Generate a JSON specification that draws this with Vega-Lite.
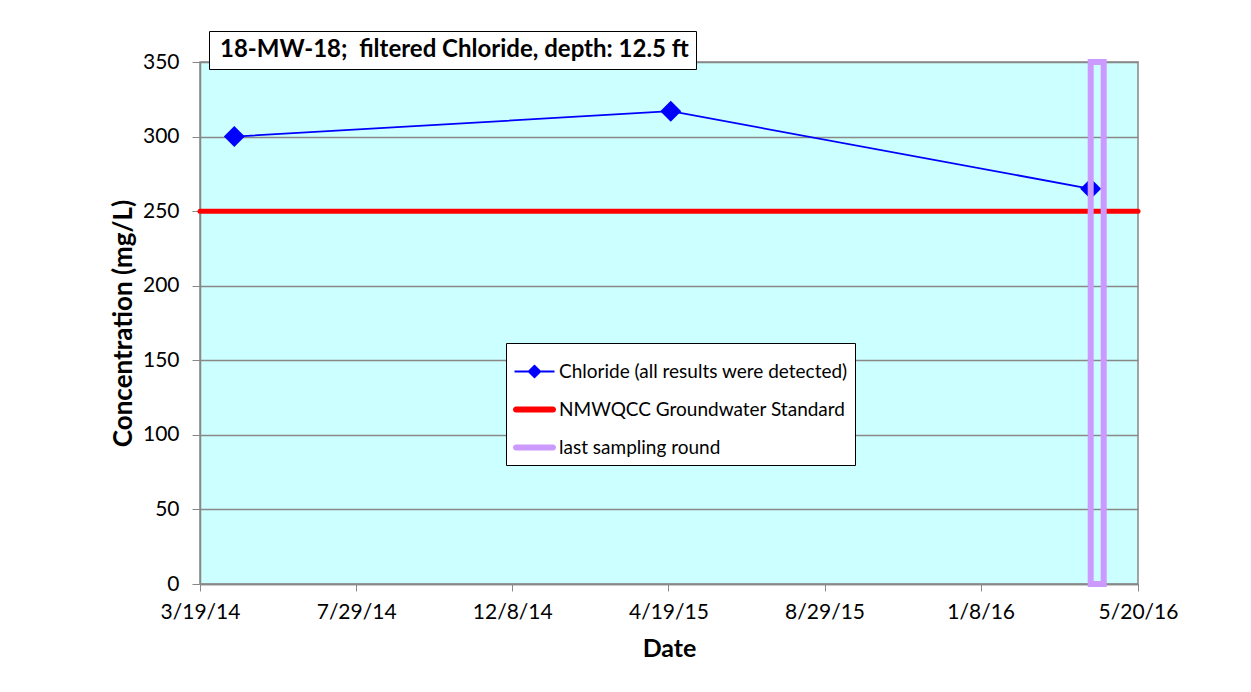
{
  "$schema": "https://vega.github.io/schema/vega-lite/v6.json",
  "width": 938,
  "height": 522,
  "autosize": {"type": "none"},
  "padding": {"left": 200, "top": 62, "right": 113, "bottom": 108},
  "background": "white",
  "config": {
    "view": {"fill": "#CCFFFF", "stroke": "#888888", "strokeWidth": 1.5},
    "font": "Lato"
  },
  "data": {
    "values": [
      {"series": "Chloride (all results were detected)", "date": "2014-04-17T00:00", "value": 300},
      {"series": "Chloride (all results were detected)", "date": "2015-04-21T00:00", "value": 317},
      {"series": "Chloride (all results were detected)", "date": "2016-04-10T00:00", "value": 265},
      {"series": "NMWQCC Groundwater Standard", "value": 250},
      {"series": "last sampling round", "start": "2016-04-10T00:00", "end": "2016-04-21T00:00"}
    ]
  },
  "encoding": {
    "x": {
      "field": "date",
      "type": "temporal",
      "scale": {
        "domain": [{"year": 2014, "month": 3, "date": 19}, {"year": 2016, "month": 5, "date": 20}],
        "nice": false
      },
      "axis": {
        "title": "Date",
        "values": [
          {"year": 2014, "month": 3, "date": 19},
          {"year": 2014, "month": 7, "date": 29},
          {"year": 2014, "month": 12, "date": 8},
          {"year": 2015, "month": 4, "date": 19},
          {"year": 2015, "month": 8, "date": 29},
          {"year": 2016, "month": 1, "date": 8},
          {"year": 2016, "month": 5, "date": 20}
        ],
        "format": "%-m/%-d/%y",
        "grid": false,
        "domainColor": "#888888",
        "domainWidth": 1.5,
        "tickColor": "#888888",
        "tickSize": 7,
        "labelFont": "Lato",
        "labelFontSize": 21,
        "labelColor": "black",
        "labelPadding": 10,
        "labelFlush": false,
        "titleFont": "Lato",
        "titleFontSize": 25,
        "titleFontWeight": "bold",
        "titleColor": "black",
        "titlePadding": 14
      }
    },
    "color": {
      "field": "series",
      "type": "nominal",
      "scale": {
        "domain": ["Chloride (all results were detected)", "NMWQCC Groundwater Standard", "last sampling round"],
        "range": ["#0000FF", "#FF0000", "#CC99FF"]
      },
      "legend": {
        "title": null,
        "orient": "none",
        "legendX": 306,
        "legendY": 281,
        "direction": "vertical",
        "padding": 7,
        "titlePadding": 0,
        "strokeColor": "black",
        "fillColor": "white",
        "labelFont": "Lato",
        "labelFontSize": 19,
        "labelColor": "black",
        "labelLimit": 400,
        "labelOffset": 3,
        "symbolSize": 400,
        "rowPadding": 6,
        "encode": {
          "symbols": {
            "update": {
              "shape": {"signal": "datum.value === 'Chloride (all results were detected)' ? 'M-0.93,-0.05L0.93,-0.05L0.93,0.05L-0.93,0.05Z M0,-0.33L0.33,0L0,0.33L-0.33,0Z' : 'M-0.86,-0.14L0.86,-0.14A0.14,0.14 0 0 1 0.86,0.14L-0.86,0.14A0.14,0.14 0 0 1 -0.86,-0.14Z'"},
              "fill": {"signal": "datum.value === 'Chloride (all results were detected)' ? '#0000FF' : (datum.value === 'NMWQCC Groundwater Standard' ? '#FF0000' : '#CC99FF')"},
              "stroke": {"value": "transparent"},
              "strokeWidth": {"value": 0},
              "opacity": {"value": 1},
              "fillOpacity": {"value": 1},
              "size": {"value": 1849},
              "x": {"value": 21.5}
            }
          }
        }
      }
    }
  },
  "layer": [
    {
      "transform": [{"filter": "datum.series === 'NMWQCC Groundwater Standard'"}],
      "mark": {"type": "rule", "strokeWidth": 5, "strokeCap": "round"},
      "encoding": {
        "x": null,
        "y": {"field": "value", "type": "quantitative"}
      }
    },
    {
      "transform": [{"filter": "datum.series === 'Chloride (all results were detected)'"}],
      "mark": {"type": "line", "strokeWidth": 1.8},
      "encoding": {
        "y": {
          "field": "value",
          "type": "quantitative",
          "scale": {"domain": [0, 350], "nice": false},
          "axis": {
            "title": "Concentration (mg/L)",
            "values": [0, 50, 100, 150, 200, 250, 300, 350],
            "grid": true,
            "gridColor": "#888888",
            "gridWidth": 1.5,
            "domainColor": "#888888",
            "domainWidth": 1.5,
            "tickColor": "#888888",
            "tickSize": 8,
            "labelFont": "Lato",
            "labelFontSize": 21,
            "labelColor": "black",
            "labelPadding": 13,
            "titleFont": "Lato",
            "titleFontSize": 26,
            "titleFontWeight": "bold",
            "titleColor": "black",
            "titlePadding": 6
          }
        }
      }
    },
    {
      "transform": [{"filter": "datum.series === 'Chloride (all results were detected)'"}],
      "mark": {"type": "point", "shape": "diamond", "filled": true, "size": 441, "opacity": 1},
      "encoding": {
        "y": {"field": "value", "type": "quantitative"},
        "opacity": {
          "datum": "18-MW-18;\u00a0 filtered Chloride, depth: 12.5 ft",
          "type": "nominal",
          "scale": {"range": [1]},
          "legend": {
            "title": null,
            "orient": "none",
            "legendX": 9,
            "legendY": -31,
            "padding": 7,
            "strokeColor": "black",
            "fillColor": "white",
            "symbolSize": 1,
            "labelOffset": -20,
            "labelFont": "Lato",
            "labelFontSize": 24,
            "labelFontWeight": "bold",
            "labelColor": "black",
            "labelLimit": 600,
            "encode": {
              "symbols": {
                "update": {
                  "opacity": {"value": 0},
                  "fillOpacity": {"value": 0},
                  "strokeOpacity": {"value": 0},
                  "size": {"value": 0}
                }
              }
            }
          }
        }
      }
    },
    {
      "transform": [{"filter": "datum.series === 'last sampling round'"}],
      "mark": {"type": "rect", "filled": false, "strokeWidth": 6},
      "encoding": {
        "x": {"field": "start", "type": "temporal"},
        "x2": {"field": "end"}
      }
    }
  ]
}
